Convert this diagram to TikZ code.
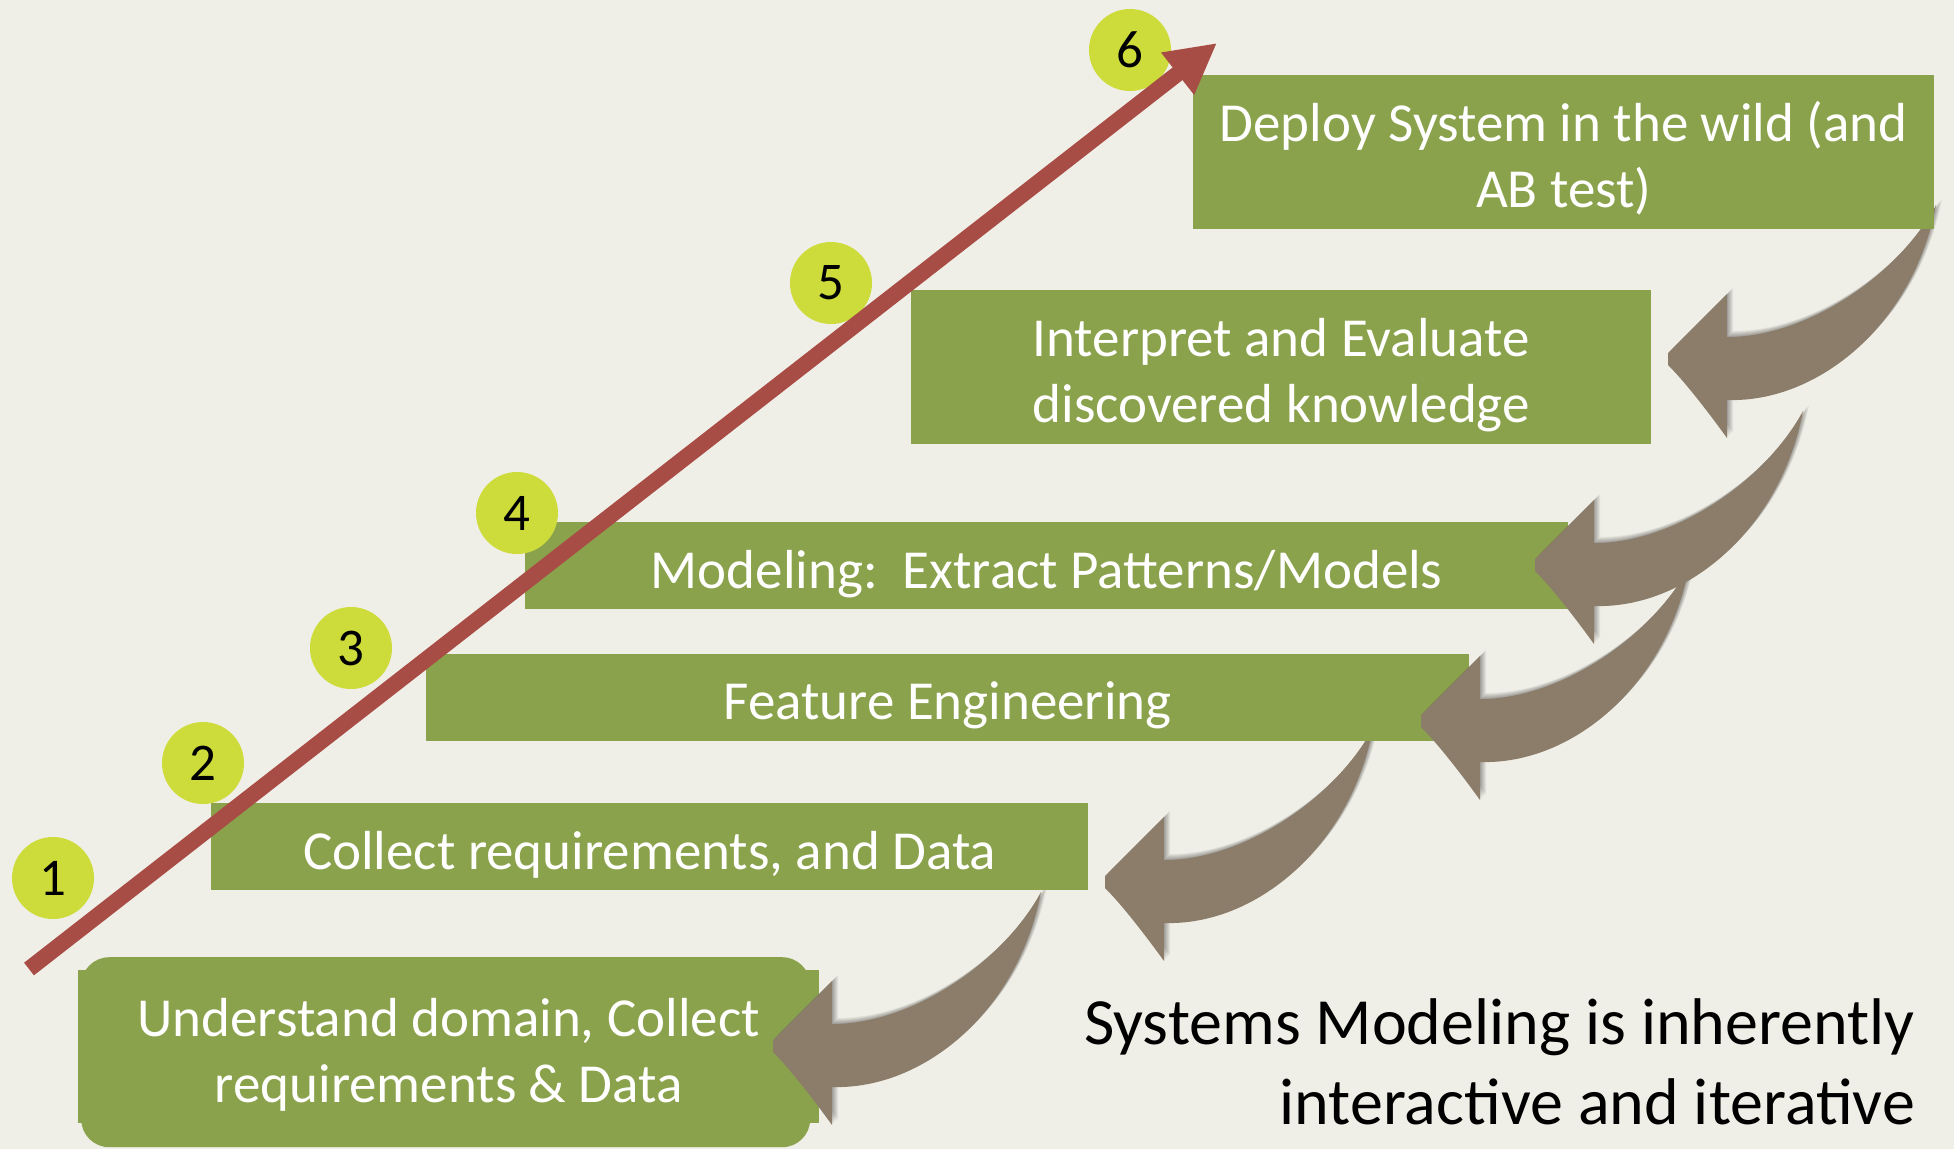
\documentclass[tikz,border=0pt]{standalone}
\usepackage{fontspec}
\setmainfont{Carlito}
\usetikzlibrary{arrows.meta}
\definecolor{bgc}{RGB}{240,239,231}
\definecolor{boxgreen}{RGB}{139,162,76}
\definecolor{dotyellow}{RGB}{205,220,58}
\definecolor{redc}{RGB}{168,77,70}
\definecolor{brownc}{RGB}{140,125,107}
\tikzset{
  stepbox/.style={fill=boxgreen, inner sep=0pt, anchor=north west},
  boxtext/.style={text=white, align=center, inner sep=0pt,
    font=\fontsize{55}{66}\selectfont},
  numdot/.style={circle, fill=dotyellow, minimum size=82pt, inner sep=0pt,
    font=\fontsize{53}{53}\selectfont},
  redline/.style={draw=redc, line width=16pt, -{Triangle[length=50pt,width=50pt]}},
  curvedarrow/.pic={
    \foreach \s in {1,2,3,4,5,6}
      \fill[black, opacity=0.06, shift={(\s,-\s)}]
        (0,-2) -- (59,-61) -- (59,-18) .. controls (140,-18) and (230,-80) .. (268,-150)
        .. controls (245,-30) and (150,48) .. (59,45) -- (59,83)
        .. controls (35,50) and (15,25) .. (0,10) -- cycle;
    \fill[brownc]
        (0,-2) -- (59,-61) -- (59,-18) .. controls (140,-18) and (230,-80) .. (268,-150)
        .. controls (245,-30) and (150,48) .. (59,45) -- (59,83)
        .. controls (35,50) and (15,25) .. (0,10) -- cycle;
  }
}
\begin{document}
\begin{tikzpicture}[x=1pt,y=-1pt]
\fill[bgc] (0,0) rectangle (1954,1149);
\useasboundingbox (0,0) rectangle (1954,1149);

% step 1
\node[stepbox, rounded corners=28pt, minimum width=729pt, minimum height=190pt] (understandbg) at (81,957) {};
\node[stepbox, minimum width=741pt, minimum height=153pt] (understand) at (78,970) {};
\node[boxtext] (understandtext) at ([yshift=-8pt]understand.center) {Understand domain, Collect\\requirements \& Data};
\coordinate (a5) at (773,1042);
\pic (arrowfive) at (a5) {curvedarrow};

% step 2
\node[stepbox, minimum width=877pt, minimum height=87pt] (collect) at (211,803) {};
\node[boxtext] (collecttext) at ([yshift=-8pt]collect.center) {Collect requirements, and Data};
\coordinate (a4) at (1105,878);
\pic (arrowfour) at (a4) {curvedarrow};

% step 3
\node[stepbox, minimum width=1043pt, minimum height=87pt] (feature) at (426,654) {};
\node[boxtext] (featuretext) at ([yshift=-8pt]feature.center) {Feature Engineering};
\coordinate (a3) at (1421,717);
\pic (arrowthree) at (a3) {curvedarrow};

% step 4
\node[stepbox, minimum width=1043pt, minimum height=87pt] (modeling) at (525,522) {};
\node[boxtext] (modelingtext) at ([yshift=-8pt]modeling.center) {Modeling:\ \ Extract Patterns/Models};
\coordinate (a2) at (1535,561);
\pic (arrowtwo) at (a2) {curvedarrow};

% step 5
\node[stepbox, minimum width=740pt, minimum height=154pt] (interpret) at (911,290) {};
\node[boxtext] (interprettext) at ([yshift=-8pt]interpret.center) {Interpret and Evaluate\\discovered knowledge};
\coordinate (a1) at (1668,355);
\pic (arrowone) at (a1) {curvedarrow};

% step 6
\node[stepbox, minimum width=741pt, minimum height=154pt] (deploy) at (1193,75) {};
\node[boxtext] (deploytext) at ([yshift=-6pt]deploy.center) {Deploy System in the wild (and\\AB test)};

% numbers
\node[numdot] (n1) at (53,878) {1};
\node[numdot] (n2) at (203,763) {2};
\node[numdot] (n3) at (351,648) {3};
\node[numdot] (n4) at (517,513) {4};
\node[numdot] (n5) at (831,283) {5};
\node[numdot] (n6) at (1130,50) {6};

% red arrow
\coordinate (rstart) at (29,969);
\coordinate (rend) at (1217,43);
\draw[redline] (rstart) -- (rend);

% caption
\node[anchor=east, align=right, inner sep=0pt, font=\fontsize{66}{80}\selectfont] (caption) at (1915,1062)
  {Systems Modeling is inherently\\interactive and iterative};
\end{tikzpicture}
\end{document}
